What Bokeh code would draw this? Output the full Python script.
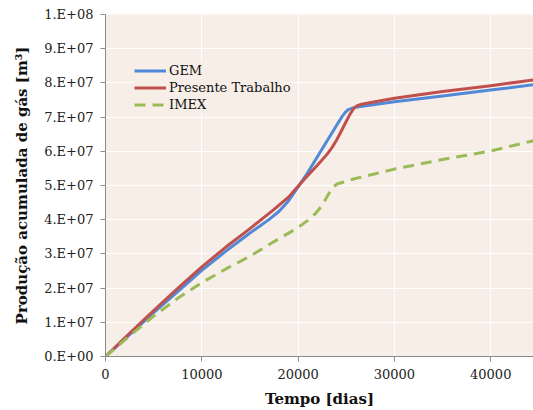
from bokeh.plotting import figure
from bokeh.models import FixedTicker, Range1d, Legend, LegendItem
from bokeh.embed import file_html
from bokeh.resources import INLINE

# Data (days, m3)
gem_t = [0, 2500, 5000, 7500, 10000, 12500, 14000, 15000, 16000, 17000, 18000, 19000, 20000,
         21000, 22000, 23000, 24000, 24600, 24900, 25200, 25700, 26500, 30000, 35000, 40000, 44600]
gem_v = [0, 0.64e7, 1.28e7, 1.90e7, 2.52e7, 3.08e7, 3.40e7, 3.61e7, 3.81e7, 4.01e7, 4.24e7,
         4.55e7, 4.96e7, 5.38e7, 5.84e7, 6.30e7, 6.76e7, 7.03e7, 7.14e7, 7.22e7, 7.27e7, 7.31e7,
         7.45e7, 7.62e7, 7.79e7, 7.95e7]

pt_t = [0, 2500, 5000, 7500, 10000, 12500, 15000, 17500, 19000, 20000, 21000, 22000, 23000,
        23500, 24000, 24500, 25000, 25400, 25800, 26100, 26500, 27000, 30000, 35000, 40000, 44600]
pt_v = [0, 0.68e7, 1.34e7, 1.99e7, 2.62e7, 3.20e7, 3.74e7, 4.30e7, 4.66e7, 4.98e7, 5.29e7,
        5.59e7, 5.91e7, 6.10e7, 6.33e7, 6.60e7, 6.88e7, 7.09e7, 7.26e7, 7.33e7, 7.37e7, 7.40e7,
        7.55e7, 7.75e7, 7.92e7, 8.09e7]

imex_t = [0, 2500, 5000, 7500, 10000, 12500, 15000, 17500, 20000, 21000, 21800, 22500,
          23100, 23600, 24100, 25000, 25750, 30000, 35000, 40000, 44600]
imex_v = [0, 0.60e7, 1.18e7, 1.70e7, 2.16e7, 2.56e7, 2.93e7, 3.36e7, 3.77e7, 3.98e7, 4.18e7,
          4.42e7, 4.72e7, 4.95e7, 5.05e7, 5.12e7, 5.19e7, 5.48e7, 5.76e7, 6.01e7, 6.32e7]

x_ticks = [0, 10000, 20000, 30000, 40000]
y_ticks = [i * 1e7 for i in range(11)]
y_labels = ["0.E+00"] + [f"{i}.E+07" for i in range(1, 10)] + ["1.E+08"]

FONT = "DejaVu Serif"
BG = "#F7EEE7"

p = figure(width=533, height=410, output_backend="svg", toolbar_location=None,
           x_range=Range1d(0, 44440), y_range=Range1d(0, 1e8),
           min_border_left=105, min_border_right=0, min_border_top=14, min_border_bottom=54)
p.background_fill_color = BG
p.border_fill_color = "white"
p.outline_line_color = None

p.xgrid.grid_line_color = "white"
p.ygrid.grid_line_color = "white"
p.xgrid.grid_line_width = 1
p.ygrid.grid_line_width = 1

p.xaxis.ticker = FixedTicker(ticks=x_ticks)
p.yaxis.ticker = FixedTicker(ticks=y_ticks)
p.yaxis.major_label_overrides = {t: l for t, l in zip(y_ticks, y_labels)}

for ax in (p.xaxis[0], p.yaxis[0]):
    ax.axis_line_color = "#8C8C8C"
    ax.major_tick_line_color = "#8C8C8C"
    ax.major_tick_out = 5
    ax.major_tick_in = 0
    ax.minor_tick_line_color = None
    ax.major_label_text_font = FONT
    ax.major_label_text_font_size = "13px"
    ax.major_label_text_color = "#222222"
    ax.axis_label_text_font = FONT
    ax.axis_label_text_font_style = "bold"
    ax.axis_label_text_font_size = "15px"
    ax.axis_label_text_color = "#111111"

p.xaxis.axis_label = "Tempo [dias]"
p.yaxis.axis_label = "Produção acumulada de gás [m³]"
p.xaxis.major_label_standoff = 7
p.yaxis.major_label_standoff = 7
p.xaxis.axis_label_standoff = 8
p.yaxis.axis_label_standoff = 10

r1 = p.line(gem_t, gem_v, line_color="#5089D8", line_width=3, line_join="round")
r2 = p.line(pt_t, pt_v, line_color="#C0504D", line_width=3, line_join="round")
r3 = p.line(imex_t, imex_v, line_color="#9BBB59", line_width=3, line_dash="11 7")

legend = Legend(items=[LegendItem(label="GEM", renderers=[r1]),
                       LegendItem(label="Presente Trabalho", renderers=[r2]),
                       LegendItem(label="IMEX", renderers=[r3])],
                location=(29, 243))
legend.background_fill_color = BG
legend.background_fill_alpha = 1
legend.border_line_color = None
legend.label_text_font = FONT
legend.label_text_font_size = "13px"
legend.label_text_color = "#111111"
legend.glyph_width = 32
legend.glyph_height = 17
legend.label_height = 17
legend.label_standoff = 3
legend.spacing = 0
legend.padding = 6
legend.margin = 0
p.add_layout(legend)

open("out.html", "w").write(file_html(p, INLINE))
